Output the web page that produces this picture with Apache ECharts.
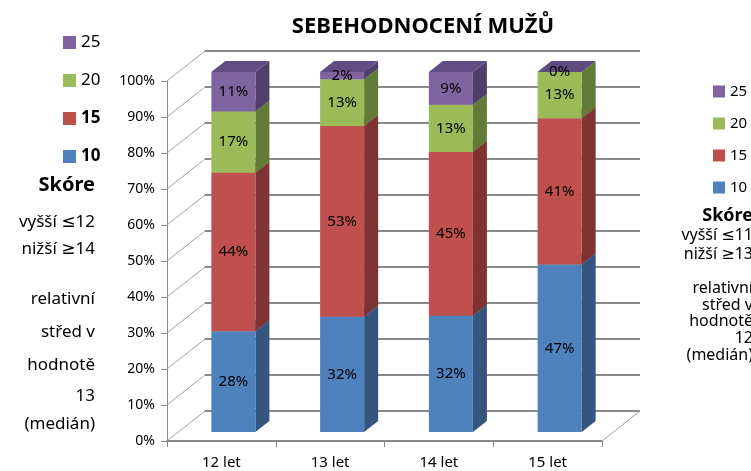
<!DOCTYPE html>
<html>
<head>
    <meta charset="UTF-8">
    <title>Sebehodnocení mužů</title>
    <script src="https://cdn.jsdelivr.net/npm/echarts@6/dist/echarts.min.js"></script>
    <style>
        html, body { margin: 0; padding: 0; background: #fff; }
        #chart { width: 751px; height: 471px; }
    </style>
</head>
<body>
<div id="chart"></div>
<script>
    // data (labels are rounded %, stack is 100%)
    var categories = ['12 let', '13 let', '14 let', '15 let'];
    var scoreNames = ['10', '15', '20', '25'];
    var s10 = [28, 32, 32, 47];
    var s15 = [44, 53, 45, 41];
    var s20 = [17, 13, 13, 13];
    var s25 = [11, 2, 9, 0];
    var wallTicks = [0, 10, 20, 30, 40, 50, 60, 70, 80, 90, 100];

    var colors = {
        front: ['#4F81BD', '#C0504D', '#9BBB59', '#8064A2'],
        side: ['#34557d', '#7d3432', '#637b39', '#513f6b'],
        top: ['#3f6797', '#9a3f3c', '#7b9647', '#604c82']
    };
    var FONT = '"Noto Sans", "DejaVu Sans", sans-serif';

    // 3d offsets (pixels)
    var WALL_DX = 38, WALL_DY = -30;   // back wall
    var BAR_DX = 12, BAR_DY = -9;      // bar front plane
    var DEPTH_DX = 14, DEPTH_DY = -11; // bar depth

    var series = [s10, s15, s20, s25];
    var totals = categories.map(function (c, i) {
        return s10[i] + s15[i] + s20[i] + s25[i];
    });

    // build stacked [cat, base, top, label] rows
    var stacked = series.map(function () { return []; });
    categories.forEach(function (c, i) {
        var acc = 0;
        series.forEach(function (arr, k) {
            var base = acc / totals[i] * 100;
            acc += arr[i];
            var top = acc / totals[i] * 100;
            stacked[k].push([i, base, top, arr[i]]);
        });
    });

    function renderWall(params, api) {
        var cs = params.coordSys;
        var v = api.value(1);
        var y = api.coord([0, v])[1];
        var xl = cs.x, xr = cs.x + cs.width;
        var kids = [
            {
                type: 'line',
                shape: {x1: xl, y1: y, x2: xl + WALL_DX, y2: y + WALL_DY},
                style: {stroke: '#a0a0a0', lineWidth: 1}
            },
            {
                type: 'line',
                shape: {x1: xl + WALL_DX, y1: y + WALL_DY, x2: xr + WALL_DX, y2: y + WALL_DY},
                style: {stroke: '#8a8a8a', lineWidth: 2}
            }
        ];
        if (v === 0) {
            kids.push({
                type: 'line',
                shape: {x1: xr, y1: y, x2: xr + WALL_DX, y2: y + WALL_DY},
                style: {stroke: '#a0a0a0', lineWidth: 1}
            });
        }
        return {type: 'group', children: kids};
    }

    function makeBarRenderer(k) {
        return function (params, api) {
            var c = api.value(0);
            var p0 = api.coord([c, api.value(1)]);
            var p1 = api.coord([c, api.value(2)]);
            var band = api.size([1, 0])[0];
            var w = band * 0.405;
            var xl = p0[0] - w / 2 + BAR_DX, xr = xl + w;
            var yb = p0[1] + BAR_DY, yt = p1[1] + BAR_DY;
            return {
                type: 'group',
                children: [
                    {
                        type: 'polygon',
                        shape: {points: [[xr, yt], [xr + DEPTH_DX, yt + DEPTH_DY], [xr + DEPTH_DX, yb + DEPTH_DY], [xr, yb]]},
                        style: {fill: colors.side[k]}
                    },
                    {
                        type: 'rect',
                        shape: {x: xl, y: yt, width: w, height: yb - yt},
                        style: {fill: colors.front[k]}
                    },
                    {
                        type: 'polygon',
                        shape: {points: [[xl, yt], [xl + DEPTH_DX, yt + DEPTH_DY], [xr + DEPTH_DX, yt + DEPTH_DY], [xr, yt]]},
                        style: {fill: colors.top[k]}
                    },
                    {
                        type: 'text',
                        style: {
                            text: api.value(3) + '%',
                            x: (xl + xr) / 2,
                            y: (yt + yb) / 2,
                            align: 'center',
                            verticalAlign: 'middle',
                            fill: '#000',
                            fontSize: 15,
                            fontFamily: FONT
                        }
                    }
                ]
            };
        };
    }

    var chartSeries = [{
        type: 'custom',
        name: 'wall',
        z: 1,
        clip: false,
        silent: true,
        renderItem: renderWall,
        data: wallTicks.map(function (v) { return [0, v]; })
    }];
    scoreNames.forEach(function (name, k) {
        chartSeries.push({
            type: 'custom',
            name: name,
            z: 2,
            clip: false,
            itemStyle: {color: colors.front[k]},
            renderItem: makeBarRenderer(k),
            encode: {x: 0, y: [1, 2]},
            data: stacked[k]
        });
    });

    // side notes (left and cut-off right)
    var leftNotes = [
        ['Skóre', 185, true], ['vyšší ≤12', 222], ['nižší ≥14', 249],
        ['relativní', 299], ['střed v', 332], ['hodnotě', 365], ['13', 396], ['(medián)', 424]
    ];
    var rightNotes = [
        ['Skóre', 216, true], ['vyšší ≤11', 235], ['nižší ≥13', 254],
        ['relativní', 288], ['střed v', 305], ['hodnotě', 321], ['12', 338], ['(medián)', 355]
    ];
    var graphics = [];
    leftNotes.forEach(function (n) {
        graphics.push({
            type: 'text', x: 95, y: n[1],
            style: {
                text: n[0], align: 'right', verticalAlign: 'middle', fill: '#000',
                fontSize: n[2] ? 20 : 17, fontWeight: n[2] ? 'bold' : 'normal', fontFamily: FONT
            }
        });
    });
    rightNotes.forEach(function (n) {
        graphics.push({
            type: 'text', x: 753, y: n[1],
            style: {
                text: n[0], align: 'right', verticalAlign: 'middle', fill: '#000',
                fontSize: n[2] ? 18 : 16, fontWeight: n[2] ? 'bold' : 'normal', fontFamily: FONT
            }
        });
    });

    var chart = echarts.init(document.getElementById('chart'), null, {renderer: 'canvas'});
    chart.setOption({
        animation: false,
        title: {
            text: 'SEBEHODNOCENÍ MUŽŮ',
            left: 418,
            top: 11,
            textAlign: 'center',
            textStyle: {fontSize: 22, fontWeight: 'bold', color: '#000', fontFamily: FONT}
        },
        legend: [{
            orient: 'vertical',
            left: 58,
            top: 29,
            itemWidth: 13,
            itemHeight: 13,
            itemGap: 21,
            icon: 'rect',
            data: ['25', '20', '15', '10'],
            formatter: function (name) {
                return (name === '15' || name === '10') ? '{b|' + name + '}' : name;
            },
            textStyle: {
                fontSize: 17, color: '#000', fontFamily: FONT,
                rich: {b: {fontSize: 17, fontWeight: 'bold', fontFamily: FONT}}
            }
        }, {
            orient: 'vertical',
            left: 708,
            top: 79,
            itemWidth: 12,
            itemHeight: 12,
            itemGap: 17,
            itemTextGap: 4,
            icon: 'rect',
            data: ['25', '20', '15', '10'],
            textStyle: {fontSize: 15, color: '#000', fontFamily: FONT}
        }],
        grid: {left: 167, top: 81, width: 435, height: 360},
        xAxis: {
            type: 'category',
            data: categories,
            axisLine: {lineStyle: {color: '#8a8a8a', width: 2}},
            axisTick: {show: true, length: 6, lineStyle: {color: '#8a8a8a'}},
            axisLabel: {color: '#000', fontSize: 15, margin: 14, fontFamily: FONT}
        },
        yAxis: {
            type: 'value',
            min: 0,
            max: 100,
            interval: 10,
            axisLine: {show: true, lineStyle: {color: '#8a8a8a', width: 1}},
            axisTick: {show: true, length: 6, lineStyle: {color: '#8a8a8a'}},
            splitLine: {show: false},
            axisLabel: {formatter: '{value}%', color: '#000', fontSize: 14, margin: 12, fontFamily: FONT}
        },
        graphic: graphics,
        series: chartSeries
    });
</script>
</body>
</html>
